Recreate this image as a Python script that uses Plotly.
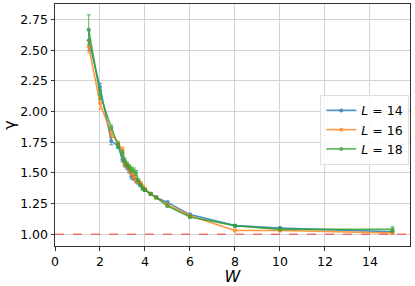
import plotly.graph_objects as go

W = [1.5, 2, 2.5, 2.8, 3, 3.1, 3.2, 3.3, 3.4, 3.5, 3.6, 3.7, 3.8, 3.9, 4, 4.25, 4.5, 5, 6, 8, 10, 15]

gamma_L14 = [2.58, 2.20, 1.76, 1.72, 1.61, 1.57, 1.55, 1.52, 1.47, 1.46, 1.44, 1.42, 1.40, 1.38, 1.36, 1.33, 1.30, 1.26, 1.16, 1.07, 1.05, 1.02]
err_L14 = [0.08, 0.03, 0.03, 0.02, 0.02, 0.02, 0.02, 0.02, 0.02, 0.02, 0.02, 0.01, 0.01, 0.01, 0.01, 0.01, 0.01, 0.01, 0.01, 0.01, 0.01, 0.01]

gamma_L16 = [2.53, 2.07, 1.82, 1.74, 1.69, 1.58, 1.56, 1.53, 1.50, 1.47, 1.44, 1.43, 1.42, 1.39, 1.37, 1.33, 1.30, 1.24, 1.15, 1.03, 1.03, 1.01]
err_L16 = [0.05, 0.05, 0.03, 0.02, 0.02, 0.02, 0.02, 0.02, 0.02, 0.02, 0.02, 0.01, 0.01, 0.01, 0.01, 0.01, 0.01, 0.01, 0.01, 0.01, 0.01, 0.01]

gamma_L18 = [2.67, 2.14, 1.87, 1.73, 1.66, 1.60, 1.57, 1.55, 1.53, 1.52, 1.50, 1.44, 1.40, 1.37, 1.36, 1.33, 1.30, 1.23, 1.14, 1.07, 1.04, 1.04]
err_L18 = [0.12, 0.04, 0.02, 0.02, 0.02, 0.02, 0.02, 0.02, 0.02, 0.02, 0.02, 0.01, 0.01, 0.01, 0.01, 0.01, 0.01, 0.01, 0.01, 0.01, 0.01, 0.02]

series = [
    ("<i>L</i> = 14", gamma_L14, err_L14, "#1f77b4"),
    ("<i>L</i> = 16", gamma_L16, err_L16, "#ff7f0e"),
    ("<i>L</i> = 18", gamma_L18, err_L18, "#2ca02c"),
]

x_ticks = [0, 2, 4, 6, 8, 10, 12, 14]
y_ticks = [1.00, 1.25, 1.50, 1.75, 2.00, 2.25, 2.50, 2.75]

fig = go.Figure()

fig.add_shape(type="line", xref="paper", yref="y", x0=0, x1=1, y0=1, y1=1,
              line=dict(color="rgba(255,0,0,0.5)", width=1.5, dash="dash"), layer="above")

for name, g, e, c in series:
    fig.add_trace(go.Scatter(
        x=W, y=g, name=name, mode="lines+markers",
        line=dict(color=c, width=1.6),
        marker=dict(color=c, size=4),
        opacity=0.8,
        error_y=dict(type="data", array=e, visible=True, color=c, thickness=1, width=2),
    ))

fig.update_layout(
    width=415, height=286,
    margin=dict(l=55, r=5, t=4, b=40, autoexpand=False),
    paper_bgcolor="white", plot_bgcolor="white",
    font=dict(family="DejaVu Sans", size=12, color="black"),
    showlegend=True,
    legend=dict(x=0.998, y=0.625, xanchor="right", yanchor="top",
                bgcolor="rgba(255,255,255,0.8)", bordercolor="#dddddd", borderwidth=1,
                font=dict(size=12.5), tracegroupgap=0),
)
fig.update_xaxes(
    range=[0, 15.78], tickvals=x_ticks, ticktext=[str(v) for v in x_ticks],
    showgrid=True, gridcolor="#d3d3d3", gridwidth=1,
    showline=True, linecolor="#333333", linewidth=1, mirror=True,
    ticks="outside", ticklen=3.5, tickcolor="#333333",
    zeroline=False, tickfont=dict(size=12.5), automargin=False,
    title=dict(text="<i>W</i>", font=dict(size=16), standoff=0),
)
fig.update_yaxes(
    range=[0.904, 2.878], tickvals=y_ticks, ticktext=[f"{v:.2f}" for v in y_ticks],
    showgrid=True, gridcolor="#d3d3d3", gridwidth=1,
    showline=True, linecolor="#333333", linewidth=1, mirror=True,
    ticks="outside", ticklen=3.5, tickcolor="#333333",
    zeroline=False, tickfont=dict(size=12.5), automargin=False,
    title=dict(text="γ", font=dict(size=16), standoff=1),
)

fig.write_html("out.html", config={"displayModeBar": False},
               post_script="document.body.style.margin='0';document.body.style.overflow='hidden';")
